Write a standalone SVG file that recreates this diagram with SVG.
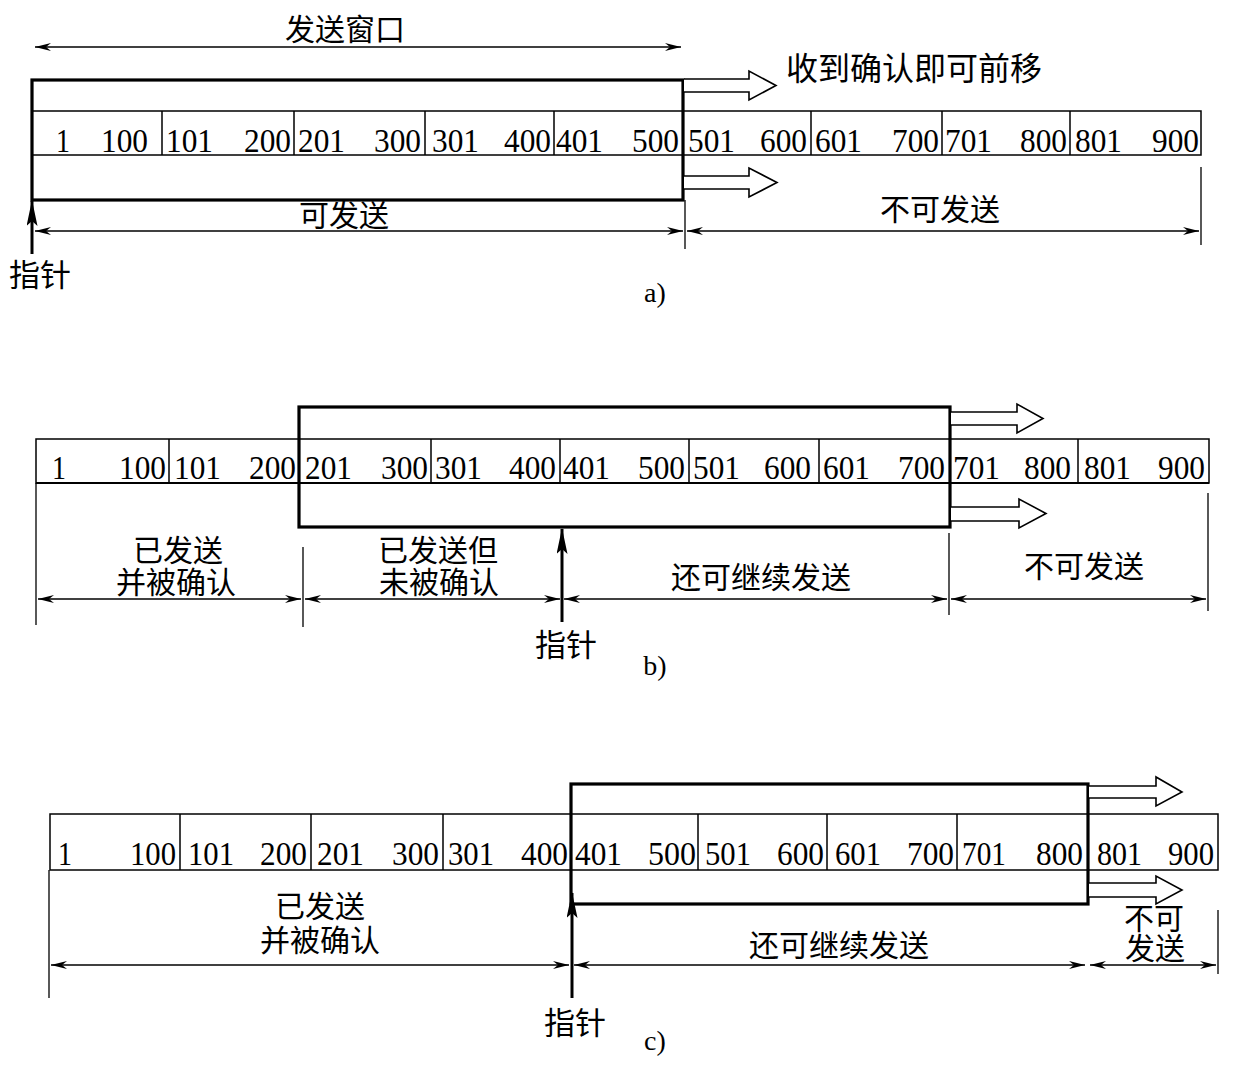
<svg xmlns="http://www.w3.org/2000/svg" width="1235" height="1065" viewBox="0 0 1235 1065">
<style>
.t{font-family:"Liberation Serif","Noto Sans CJK SC",serif;fill:#000}
.n{font-size:33px}
.r{text-anchor:end}
.zh{font-family:"Liberation Serif","Noto Sans CJK SC",serif;font-size:30px;text-anchor:middle;fill:#000}
.cell{fill:none;stroke:#000;stroke-width:1.5}
.win{fill:none;stroke:#000;stroke-width:3.2}
.dim{fill:none;stroke:#000;stroke-width:1.3;marker-start:url(#ah);marker-end:url(#ah)}
.ext{fill:none;stroke:#000;stroke-width:1.3}
.blk{fill:#fff;stroke:#000;stroke-width:1.6;stroke-linejoin:miter}
.ptr{fill:none;stroke:#000;stroke-width:3;marker-end:url(#ph)}
</style>
<defs>
<marker id="ah" markerUnits="userSpaceOnUse" viewBox="0 0 16 8" refX="16" refY="4" markerWidth="16" markerHeight="8" orient="auto-start-reverse">
<path d="M0,0 L16,4 L0,8 L5,4 z" fill="#000"/>
</marker>
<marker id="ph" markerUnits="userSpaceOnUse" viewBox="0 0 26 11" refX="25" refY="5.5" markerWidth="26" markerHeight="11" orient="auto">
<path d="M0,0 L26,5.5 L0,11 L5,5.5 z" fill="#000"/>
</marker>
</defs>

<!-- ========== a) ========== -->
<g id="a-table">
<rect class="cell" x="32" y="111" width="1169" height="44"/>
<path class="cell" d="M162,111V155M294,111V155M425,111V155M554,111V155M811,111V155M942,111V155M1070,111V155"/>
<g class="t n">
<text x="56" y="152" textLength="14" lengthAdjust="spacingAndGlyphs">1</text><text class="r" x="148" y="152" textLength="47" lengthAdjust="spacingAndGlyphs">100</text>
<text x="166" y="152" textLength="47" lengthAdjust="spacingAndGlyphs">101</text><text class="r" x="291" y="152" textLength="47" lengthAdjust="spacingAndGlyphs">200</text>
<text x="298" y="152" textLength="47" lengthAdjust="spacingAndGlyphs">201</text><text class="r" x="421" y="152" textLength="47" lengthAdjust="spacingAndGlyphs">300</text>
<text x="432" y="152" textLength="47" lengthAdjust="spacingAndGlyphs">301</text><text class="r" x="551" y="152" textLength="47" lengthAdjust="spacingAndGlyphs">400</text>
<text x="556" y="152" textLength="47" lengthAdjust="spacingAndGlyphs">401</text><text class="r" x="679" y="152" textLength="47" lengthAdjust="spacingAndGlyphs">500</text>
<text x="688" y="152" textLength="47" lengthAdjust="spacingAndGlyphs">501</text><text class="r" x="807" y="152" textLength="47" lengthAdjust="spacingAndGlyphs">600</text>
<text x="815" y="152" textLength="47" lengthAdjust="spacingAndGlyphs">601</text><text class="r" x="939" y="152" textLength="47" lengthAdjust="spacingAndGlyphs">700</text>
<text x="945" y="152" textLength="47" lengthAdjust="spacingAndGlyphs">701</text><text class="r" x="1067" y="152" textLength="47" lengthAdjust="spacingAndGlyphs">800</text>
<text x="1075" y="152" textLength="47" lengthAdjust="spacingAndGlyphs">801</text><text class="r" x="1199" y="152" textLength="47" lengthAdjust="spacingAndGlyphs">900</text>
</g>
</g>
<g id="a-window"><rect class="win" x="32" y="80" width="651" height="120"/></g>
<g id="a-labels">
<text class="zh" x="345" y="40">发送窗口</text>
<text class="t" x="786" y="80" style="font-size:32px">收到确认即可前移</text>
<text class="zh" x="344" y="226">可发送</text>
<text class="zh" x="940" y="220">不可发送</text>
<text class="zh" x="40" y="286" style="font-size:31px">指针</text>
<text class="t" x="655" y="302" style="font-size:28px;text-anchor:middle">a)</text>
</g>

<!-- ========== b) ========== -->
<g id="b-table">
<rect class="cell" x="36" y="439" width="1173" height="44"/>
<path d="M36,483H1209" stroke="#000" stroke-width="2.2"/>
<path class="cell" d="M169,439V483M431,439V483M560,439V483M689,439V483M819,439V483M1078,439V483"/>
<g class="t n">
<text x="52" y="479" textLength="14" lengthAdjust="spacingAndGlyphs">1</text><text class="r" x="166" y="479" textLength="47" lengthAdjust="spacingAndGlyphs">100</text>
<text x="174" y="479" textLength="47" lengthAdjust="spacingAndGlyphs">101</text><text class="r" x="296" y="479" textLength="47" lengthAdjust="spacingAndGlyphs">200</text>
<text x="305" y="479" textLength="47" lengthAdjust="spacingAndGlyphs">201</text><text class="r" x="428" y="479" textLength="47" lengthAdjust="spacingAndGlyphs">300</text>
<text x="435" y="479" textLength="47" lengthAdjust="spacingAndGlyphs">301</text><text class="r" x="556" y="479" textLength="47" lengthAdjust="spacingAndGlyphs">400</text>
<text x="563" y="479" textLength="47" lengthAdjust="spacingAndGlyphs">401</text><text class="r" x="685" y="479" textLength="47" lengthAdjust="spacingAndGlyphs">500</text>
<text x="693" y="479" textLength="47" lengthAdjust="spacingAndGlyphs">501</text><text class="r" x="811" y="479" textLength="47" lengthAdjust="spacingAndGlyphs">600</text>
<text x="823" y="479" textLength="47" lengthAdjust="spacingAndGlyphs">601</text><text class="r" x="945" y="479" textLength="47" lengthAdjust="spacingAndGlyphs">700</text>
<text x="953" y="479" textLength="47" lengthAdjust="spacingAndGlyphs">701</text><text class="r" x="1071" y="479" textLength="47" lengthAdjust="spacingAndGlyphs">800</text>
<text x="1084" y="479" textLength="47" lengthAdjust="spacingAndGlyphs">801</text><text class="r" x="1205" y="479" textLength="47" lengthAdjust="spacingAndGlyphs">900</text>
</g>
</g>
<g id="b-window"><rect class="win" x="299" y="407" width="651" height="120"/></g>
<g id="b-labels">
<text class="zh" x="178" y="561">已发送</text>
<text class="zh" x="176" y="593">并被确认</text>
<text class="zh" x="438" y="561">已发送但</text>
<text class="zh" x="439" y="593">未被确认</text>
<text class="zh" x="761" y="588">还可继续发送</text>
<text class="zh" x="1084" y="577">不可发送</text>
<text class="zh" x="566" y="656" style="font-size:31px">指针</text>
<text class="t" x="655" y="675" style="font-size:28px;text-anchor:middle">b)</text>
</g>

<!-- ========== c) ========== -->
<g id="c-table">
<rect class="cell" x="50" y="814" width="1168" height="56"/>
<path class="cell" d="M180,814V870M311,814V870M443,814V870M698,814V870M827,814V870M957,814V870"/>
<g class="t n">
<text x="58" y="865" textLength="14" lengthAdjust="spacingAndGlyphs">1</text><text class="r" x="176" y="865" textLength="46" lengthAdjust="spacingAndGlyphs">100</text>
<text x="188" y="865" textLength="46" lengthAdjust="spacingAndGlyphs">101</text><text class="r" x="307" y="865" textLength="47" lengthAdjust="spacingAndGlyphs">200</text>
<text x="317" y="865" textLength="47" lengthAdjust="spacingAndGlyphs">201</text><text class="r" x="439" y="865" textLength="47" lengthAdjust="spacingAndGlyphs">300</text>
<text x="448" y="865" textLength="46" lengthAdjust="spacingAndGlyphs">301</text><text class="r" x="568" y="865" textLength="47" lengthAdjust="spacingAndGlyphs">400</text>
<text x="575" y="865" textLength="47" lengthAdjust="spacingAndGlyphs">401</text><text class="r" x="696" y="865" textLength="48" lengthAdjust="spacingAndGlyphs">500</text>
<text x="705" y="865" textLength="46" lengthAdjust="spacingAndGlyphs">501</text><text class="r" x="824" y="865" textLength="47" lengthAdjust="spacingAndGlyphs">600</text>
<text x="835" y="865" textLength="46" lengthAdjust="spacingAndGlyphs">601</text><text class="r" x="954" y="865" textLength="47" lengthAdjust="spacingAndGlyphs">700</text>
<text x="962" y="865" textLength="44" lengthAdjust="spacingAndGlyphs">701</text><text class="r" x="1083" y="865" textLength="47" lengthAdjust="spacingAndGlyphs">800</text>
<text x="1097" y="865" textLength="45" lengthAdjust="spacingAndGlyphs">801</text><text class="r" x="1214" y="865" textLength="46" lengthAdjust="spacingAndGlyphs">900</text>
</g>
</g>
<g id="c-window"><rect class="win" x="571" y="784" width="517" height="120"/></g>
<g id="c-labels">
<text class="zh" x="320" y="917">已发送</text>
<text class="zh" x="320" y="951">并被确认</text>
<text class="zh" x="839" y="956">还可继续发送</text>
<text class="zh" x="1154" y="929">不可</text>
<text class="zh" x="1155" y="959">发送</text>
<text class="zh" x="575" y="1034" style="font-size:31px">指针</text>
<text class="t" x="655" y="1050" style="font-size:28px;text-anchor:middle">c)</text>
</g>

<!-- ========== connectors ========== -->
<g id="connectors">
<!-- a -->
<path class="dim" d="M35,47H681"/>
<path class="blk" d="M684,79H749V71L776,85.5L749,100V92H684"/>
<path class="blk" d="M684,176H749V168L777,182.5L749,197V189H684"/>
<path class="ext" d="M685,200V249M1201,167V245"/>
<path class="dim" d="M35,231H683"/>
<path class="dim" d="M687,231H1199"/>
<path class="ptr" d="M32,254V201"/>
<!-- b -->
<path class="blk" d="M951,412H1017V404L1043,418.5L1017,433V425H951"/>
<path class="blk" d="M951,507H1019V499L1046,513.5L1019,528V521H951"/>
<path class="ext" d="M36,483V625M303,547V627M949,533V615M1208,493V611"/>
<path class="dim" d="M38,599H301"/>
<path class="dim" d="M305,599H560"/>
<path class="dim" d="M564,599H947"/>
<path class="dim" d="M951,599H1206"/>
<path class="ptr" d="M562,622V529"/>
<!-- c -->
<path class="blk" d="M1089,786H1156V777L1182,792L1156,806V798H1089"/>
<path class="blk" d="M1089,883H1156V876L1182,890L1156,904V897H1089"/>
<path class="ext" d="M49,870V998M1218,910V974"/>
<path class="dim" d="M51,965H569"/>
<path class="dim" d="M574,965H1085"/>
<path class="dim" d="M1090,965H1216"/>
<path class="ptr" d="M572,998V893"/>
</g>
</svg>
